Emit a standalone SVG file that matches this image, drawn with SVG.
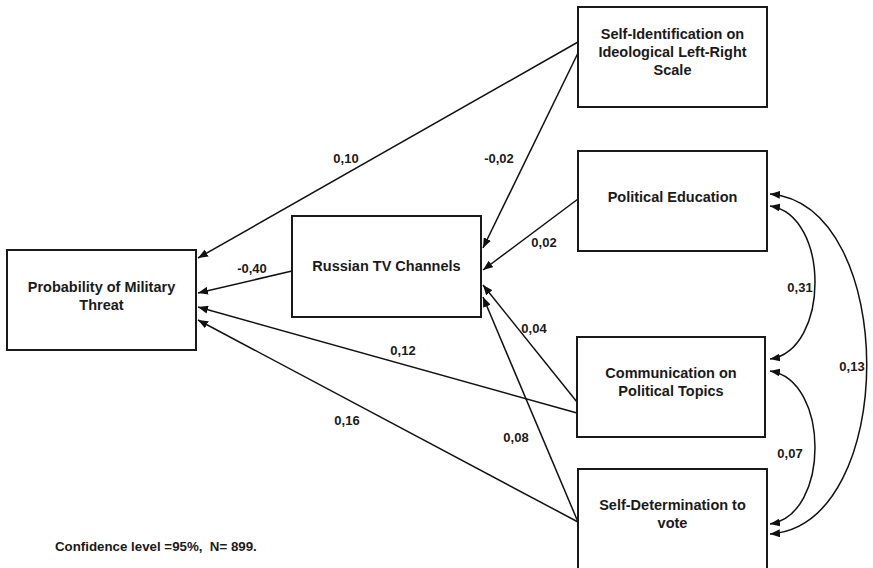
<svg xmlns="http://www.w3.org/2000/svg" width="873" height="568" viewBox="0 0 873 568">
  <style>
    .box { fill: #ffffff; stroke: #1a1a1a; stroke-width: 2; }
    .node-text { font-family: "Liberation Sans", Arial, sans-serif; font-weight: bold; font-size: 14.5px; fill: #1a1a1a; text-anchor: middle; }
    .coef { font-family: "Liberation Sans", Arial, sans-serif; font-weight: bold; font-size: 13px; fill: #1a1a1a; text-anchor: middle; }
    .note { font-family: "Liberation Sans", Arial, sans-serif; font-weight: bold; font-size: 13.3px; fill: #1a1a1a; white-space: pre; }
    .path { fill: none; stroke: #111111; stroke-width: 1.5; }
  </style>
  <defs>
    <marker id="arrow" viewBox="0 0 10 8" refX="10" refY="4" markerWidth="10" markerHeight="8" markerUnits="userSpaceOnUse" orient="auto-start-reverse">
      <path d="M0,0 L10,4 L0,8 z" fill="#111111"/>
    </marker>
  </defs>
  <rect width="873" height="568" fill="#ffffff"/>

  <!-- Connectors: regression paths and correlations -->
  <g id="connectors">
    <path class="path" d="M578 42 L198 258" marker-end="url(#arrow)"/>
    <path class="path" d="M578 53 L483 248" marker-end="url(#arrow)"/>
    <path class="path" d="M578 199 L483 270" marker-end="url(#arrow)"/>
    <path class="path" d="M292 271 L198 293" marker-end="url(#arrow)"/>
    <path class="path" d="M577 402 L483 285" marker-end="url(#arrow)"/>
    <path class="path" d="M577 413 L198 307" marker-end="url(#arrow)"/>
    <path class="path" d="M578 522 L483 297" marker-end="url(#arrow)"/>
    <path class="path" d="M578 522 L198 320" marker-end="url(#arrow)"/>
    <path class="path" d="M770 206 C830 215 830 350 770 359" marker-start="url(#arrow)" marker-end="url(#arrow)"/>
    <path class="path" d="M770 194 C899 205 899 525 770 534" marker-start="url(#arrow)" marker-end="url(#arrow)"/>
    <path class="path" d="M770 371 C830 380 830 515 770 524" marker-start="url(#arrow)" marker-end="url(#arrow)"/>

    <text class="coef" x="346" y="163">0,10</text>
    <text class="coef" x="499" y="163">-0,02</text>
    <text class="coef" x="544" y="247">0,02</text>
    <text class="coef" x="252" y="273">-0,40</text>
    <text class="coef" x="534" y="333">0,04</text>
    <text class="coef" x="403" y="355">0,12</text>
    <text class="coef" x="347" y="425">0,16</text>
    <text class="coef" x="516" y="442">0,08</text>
    <text class="coef" x="800" y="292">0,31</text>
    <text class="coef" x="852" y="371">0,13</text>
    <text class="coef" x="790" y="458">0,07</text>
  </g>

  <g id="probability">
    <rect class="box" x="7" y="250" width="189" height="100"/>
    <text class="node-text" x="101.5" y="292">Probability of Military</text>
    <text class="node-text" x="101.5" y="310">Threat</text>
  </g>

  <g id="russian-tv">
    <rect class="box" x="292" y="216" width="189" height="101"/>
    <text class="node-text" x="386.5" y="271">Russian TV Channels</text>
  </g>

  <g id="self-identification">
    <rect class="box" x="578" y="7" width="189" height="100"/>
    <text class="node-text" x="672.5" y="39">Self-Identification on</text>
    <text class="node-text" x="672.5" y="57">Ideological Left-Right</text>
    <text class="node-text" x="672.5" y="75">Scale</text>
  </g>

  <g id="political-education">
    <rect class="box" x="578" y="151" width="189" height="100"/>
    <text class="node-text" x="672.5" y="202">Political Education</text>
  </g>

  <g id="communication">
    <rect class="box" x="577" y="337" width="188" height="100"/>
    <text class="node-text" x="671" y="378">Communication on</text>
    <text class="node-text" x="671" y="396">Political Topics</text>
  </g>

  <g id="self-determination">
    <rect class="box" x="578" y="469" width="189" height="110"/>
    <text class="node-text" x="672.5" y="510">Self-Determination to</text>
    <text class="node-text" x="672.5" y="528">vote</text>
  </g>

  <text class="note" x="55" y="551">Confidence level =95%,  N= 899.</text>
</svg>
